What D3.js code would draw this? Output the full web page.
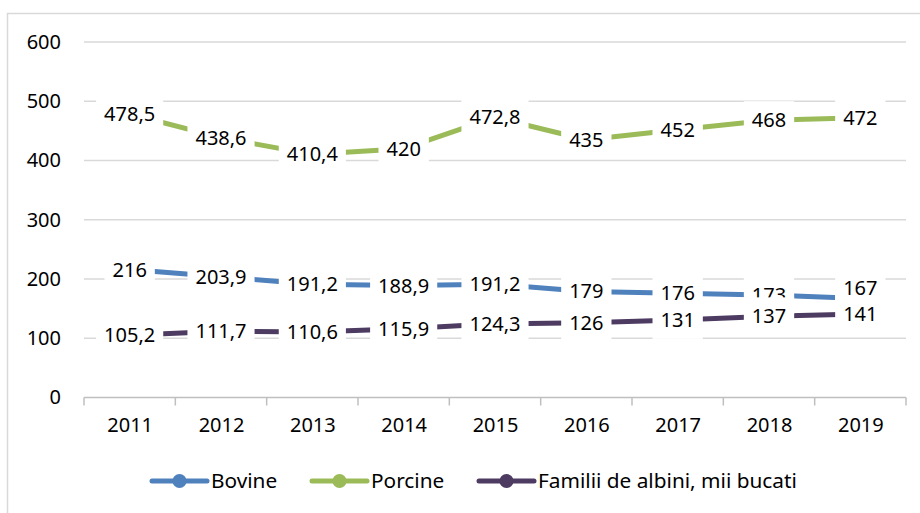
<!DOCTYPE html>
<html>
<head>
<meta charset="utf-8">
<script src="https://cdn.jsdelivr.net/npm/d3@7"></script>
<style>
  body { margin: 0; background: #fff; }
  svg { display: block; font-family: "Noto Sans", "Open Sans", sans-serif; }
</style>
</head>
<body>
<div id="canvas"></div>
<script>
// chart data
var years = ["2011", "2012", "2013", "2014", "2015", "2016", "2017", "2018", "2019"];
var bovine = [216, 203.9, 191.2, 188.9, 191.2, 179, 176, 173, 167];
var porcine = [478.5, 438.6, 410.4, 420, 472.8, 435, 452, 468, 472];
var albini = [105.2, 111.7, 110.6, 115.9, 124.3, 126, 131, 137, 141];
var seriesNames = ["Bovine", "Porcine", "Familii de albini, mii bucati"];
var yTicks = [0, 100, 200, 300, 400, 500, 600];

var colors = ["#4f81bd", "#9bbb59", "#4d3b62"];
var seriesValues = [bovine, porcine, albini];

var width = 920, height = 513;
var plot = {left: 84, right: 906, top: 42, bottom: 397.5};

var svg = d3.select("#canvas")
    .append("svg")
        .attr("width", width)
        .attr("height", height);

// chart area border
svg.append("rect")
    .attr("x", 7.5).attr("y", 13.5)
    .attr("width", 930).attr("height", 520)
    .attr("fill", "none")
    .attr("stroke", "#d9d9d9")
    .attr("stroke-width", 1.5);

var xScale = d3.scalePoint()
    .domain(years)
    .range([plot.left, plot.right])
    .padding(0.5);

var yScale = d3.scaleLinear()
    .domain([0, 600])
    .range([plot.bottom, plot.top]);

// gridlines
svg.append("g")
    .selectAll("line")
    .data(yTicks.filter(function(t) { return t > 0; }))
    .enter().append("line")
        .attr("x1", plot.left).attr("x2", plot.right)
        .attr("y1", function(d) { return yScale(d); })
        .attr("y2", function(d) { return yScale(d); })
        .attr("stroke", "#d9d9d9")
        .attr("stroke-width", 1.5);

// y labels
var yAxis = d3.axisLeft(yScale).tickValues(yTicks).tickSize(0).tickPadding(23);
svg.append("g")
    .attr("transform", "translate(" + plot.left + ",0)")
    .call(yAxis)
    .call(function(g) { g.select(".domain").remove(); })
    .selectAll("text")
        .attr("font-size", "20px")
        .attr("font-family", "'Noto Sans', sans-serif")
        .attr("fill", "#000");

// x axis line with ticks at category boundaries
var step = xScale.step();
var boundaries = d3.range(years.length + 1).map(function(i) { return plot.left + i * step; });
svg.append("line")
    .attr("x1", plot.left).attr("x2", plot.right)
    .attr("y1", plot.bottom).attr("y2", plot.bottom)
    .attr("stroke", "#bfbfbf").attr("stroke-width", 1.5);
svg.append("g")
    .selectAll("line")
    .data(boundaries)
    .enter().append("line")
        .attr("x1", function(d) { return d; })
        .attr("x2", function(d) { return d; })
        .attr("y1", plot.bottom).attr("y2", plot.bottom + 8)
        .attr("stroke", "#bfbfbf").attr("stroke-width", 1.5);

var xAxis = d3.axisBottom(xScale).tickSize(0).tickPadding(20);
svg.append("g")
    .attr("transform", "translate(0," + plot.bottom + ")")
    .call(xAxis)
    .call(function(g) { g.select(".domain").remove(); })
    .selectAll("text")
        .attr("font-size", "20px")
        .attr("font-family", "'Noto Sans', sans-serif")
        .attr("fill", "#000");

// lines
var line = d3.line()
    .x(function(d, i) { return xScale(years[i]); })
    .y(function(d) { return yScale(d); });

seriesValues.forEach(function(vals, s) {
    svg.append("path")
        .datum(vals)
        .attr("d", line)
        .attr("fill", "none")
        .attr("stroke", colors[s])
        .attr("stroke-width", 5)
        .attr("stroke-linejoin", "round");
});

// data labels with white boxes (later series cover earlier ones)
var labelNudge = {"0-8": -11};
function fmt(v) { return String(v).replace(".", ","); }

seriesValues.forEach(function(vals, s) {
    var g = svg.append("g");
    vals.forEach(function(v, i) {
        var cx = xScale(years[i]);
        var cy = yScale(v) + (labelNudge[s + "-" + i] || 0);
        var lg = g.append("g");
        var t = lg.append("text")
            .attr("x", cx).attr("y", cy)
            .attr("text-anchor", "middle")
            .attr("dy", "0.35em")
            .attr("font-size", "20px")
            .attr("fill", "#000")
            .text(fmt(v));
        var w = t.node().getComputedTextLength();
        lg.insert("rect", "text")
            .attr("x", cx - w / 2 - 8)
            .attr("y", cy - 19)
            .attr("width", w + 16)
            .attr("height", 38)
            .attr("fill", "#fff");
    });
});

// legend
var legendY = 481;
var legendX = [152, 312, 479];
seriesNames.forEach(function(name, s) {
    var x0 = legendX[s];
    var lg = svg.append("g");
    lg.append("line")
        .attr("x1", x0).attr("x2", x0 + 55)
        .attr("y1", legendY).attr("y2", legendY)
        .attr("stroke", colors[s]).attr("stroke-width", 5)
        .attr("stroke-linecap", "round");
    lg.append("circle")
        .attr("cx", x0 + 27.5).attr("cy", legendY)
        .attr("r", 7)
        .attr("fill", colors[s]);
    lg.append("text")
        .attr("x", x0 + 59).attr("y", legendY)
        .attr("dy", "0.35em")
        .attr("font-size", "20.8px")
        .attr("fill", "#000")
        .text(name);
});
</script>
</body>
</html>
